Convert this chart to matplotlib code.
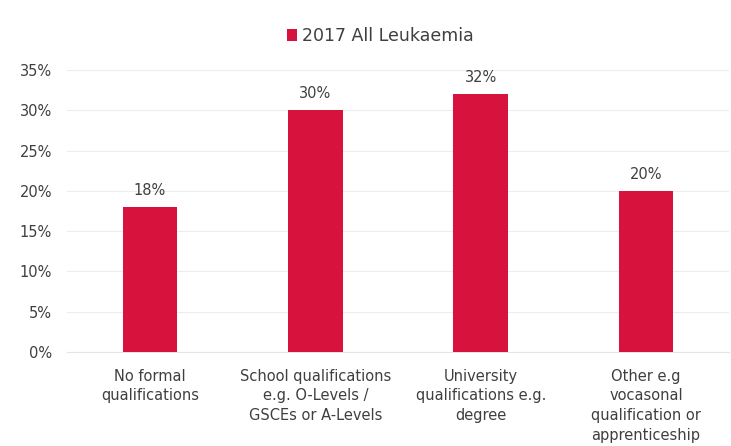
import matplotlib
matplotlib.use("Agg")
import matplotlib.pyplot as plt
from matplotlib.ticker import MultipleLocator, FuncFormatter

plt.rcParams['font.family'] = ['DejaVu Sans']

categories = [
    "No formal\nqualifications",
    "School qualifications\ne.g. O-Levels /\nGSCEs or A-Levels",
    "University\nqualifications e.g.\ndegree",
    "Other e.g\nvocasonal\nqualification or\napprenticeship",
]
values = [18, 30, 32, 20]
series_name = "2017 All Leukaemia"
bar_color = "#d7133d"
text_color = "#3f3f3f"

fig = plt.figure(figsize=(7.31, 4.46), dpi=100)
ax = fig.add_axes([0.092, 0.211, 0.905, 0.632])

x = range(len(categories))
bars = ax.bar(x, values, width=0.33, color=bar_color, label=series_name, zorder=3)

for xi, v in zip(x, values):
    ax.text(xi, v + 1.1, f"{v}%", ha="center", va="bottom", fontsize=10.5, color=text_color)

ax.set_xlim(-0.5, len(categories) - 0.5)
ax.set_ylim(0, 35)
ax.yaxis.set_major_locator(MultipleLocator(5))
ax.yaxis.set_major_formatter(FuncFormatter(lambda v, p: f"{int(v)}%"))
ax.grid(axis="y", color="#ededed", linewidth=0.8, zorder=0)

ax.set_xticks(list(x))
ax.set_xticklabels(categories, fontsize=10.5, color=text_color, linespacing=1.4)
ax.tick_params(axis="y", labelsize=10.5, labelcolor=text_color, length=0, pad=11)
ax.tick_params(axis="x", length=0, pad=12)

for s in ["top", "right", "left"]:
    ax.spines[s].set_visible(False)
ax.spines["bottom"].set_color("#e3e3e3")

fig.legend(handles=[bars], labels=[series_name], loc="center", bbox_to_anchor=(0.52, 0.92),
           frameon=False, fontsize=12.5, handlelength=0.6, handleheight=0.7,
           handletextpad=0.25, labelcolor=text_color)

fig.savefig("out.png", dpi=100, facecolor="white")
